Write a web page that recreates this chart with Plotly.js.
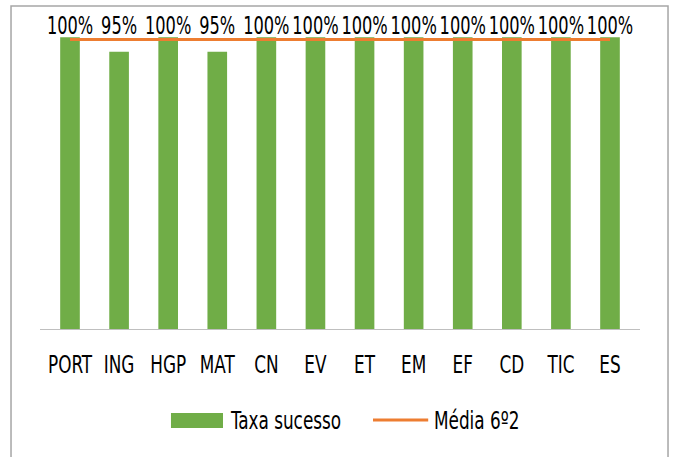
<!DOCTYPE html>
<html>
<head>
<meta charset="utf-8">
<script src="https://cdn.plot.ly/plotly-3.0.1.min.js"></script>
<style>
html,body{margin:0;padding:0;background:#fff;}
#chart{width:675px;height:457px;}
</style>
</head>
<body>
<div id="chart"></div>
<script>
const categories = ['PORT','ING','HGP','MAT','CN','EV','ET','EM','EF','CD','TIC','ES'];
const taxaSucesso = [100,95,100,95,100,100,100,100,100,100,100,100];
const mediaTurma = [99.17,99.17,99.17,99.17,99.17,99.17,99.17,99.17,99.17,99.17,99.17,99.17];
const seriesNames = ['Taxa sucesso','Média 6º2'];

const FONT = '"DejaVu Sans Condensed", "DejaVu Sans", sans-serif';
const GREEN = '#70AD47';
const ORANGE = '#ED7D31';

const traces = [
  {type:'bar', x:categories, y:taxaSucesso, name:seriesNames[0], marker:{color:GREEN}, hoverinfo:'skip'},
  {type:'scatter', mode:'lines', x:categories, y:mediaTurma, name:seriesNames[1], line:{color:ORANGE, width:3}, hoverinfo:'skip'},
  {type:'scatter', mode:'text', x:categories, y:mediaTurma, text:taxaSucesso.map(v=>v+'%'),
   textposition:'top center', textfont:{family:FONT, size:24, color:'#000'}, showlegend:false, hoverinfo:'skip'}
];

const legY = (329-420)/321;
const layout = {
  width:675, height:457,
  margin:{l:40, r:35, t:8, b:128},
  paper_bgcolor:'#fff', plot_bgcolor:'rgba(0,0,0,0)',
  showlegend:false,
  bargap:0.6,
  font:{family:FONT, color:'#000'},
  xaxis:{type:'category', showline:true, linecolor:'#BFBFBF', linewidth:1, showgrid:false, zeroline:false,
         tickangle:0, ticks:'outside', ticklen:13, tickcolor:'rgba(0,0,0,0)', tickfont:{family:FONT, size:25, color:'#000'}},
  yaxis:{range:[0,110], visible:false, showgrid:false, zeroline:false},
  shapes:[
    {type:'rect', xref:'paper', yref:'paper', x0:-0.0483, x1:1.0467, y0:-0.45, y1:1.0062,
     line:{color:'#A6A6A6', width:1.5}, fillcolor:'rgba(0,0,0,0)', layer:'below'},
    {type:'rect', xref:'paper', yref:'paper', x0:0.2183, x1:0.305, y0:(329-428)/321, y1:(329-413)/321,
     line:{width:0}, fillcolor:GREEN},
    {type:'line', xref:'paper', yref:'paper', x0:0.555, x1:0.647, y0:legY, y1:legY,
     line:{color:ORANGE, width:3}}
  ],
  annotations:[
    {xref:'paper', yref:'paper', x:0.313, y:legY, xanchor:'left', yanchor:'middle', align:'left', showarrow:false,
     text:seriesNames[0], font:{family:FONT, size:25, color:'#000'}},
    {xref:'paper', yref:'paper', x:0.653, y:legY, xanchor:'left', yanchor:'middle', align:'left', showarrow:false,
     text:seriesNames[1], font:{family:FONT, size:25, color:'#000'}}
  ]
};

function condense(gd, s){
  gd.querySelectorAll('.main-svg text').forEach(t => {
    const x = parseFloat(t.getAttribute('x')) || 0;
    const prev = t.getAttribute('transform') || '';
    t.setAttribute('transform', prev + ` translate(${x},0) scale(${s},1) translate(${-x},0)`);
  });
}

Plotly.newPlot('chart', traces, layout, {displayModeBar:false, staticPlot:true})
  .then(gd => condense(gd, 0.75));
</script>
</body>
</html>
